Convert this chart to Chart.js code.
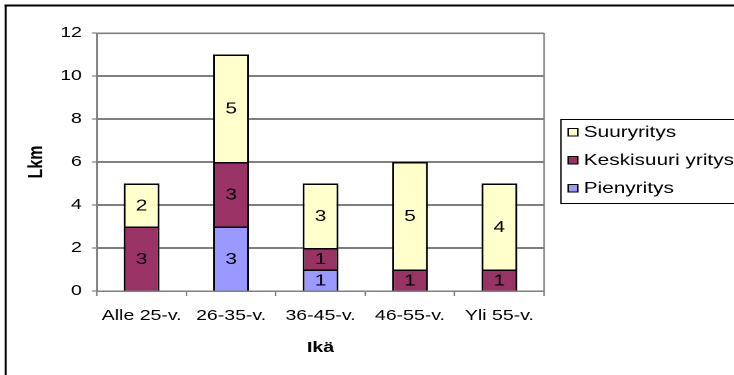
<!DOCTYPE html>
<html><head><meta charset="utf-8">
<style>
html,body{margin:0;padding:0;background:#fff;overflow:hidden}
#wrap{width:565px;height:375px;transform:scaleX(1.3);transform-origin:0 0}
canvas{display:block}
</style>
<script src="https://cdn.jsdelivr.net/npm/chart.js@4.4.1/dist/chart.umd.min.js"></script>
</head><body>
<div id="wrap"><canvas id="c" width="565" height="375" style="width:565px;height:375px"></canvas></div>
<script>
const categories = ['Alle 25-v.', '26-35-v.', '36-45-v.', '46-55-v.', 'Yli 55-v.'];
const pienyritys = [0, 3, 1, 0, 0];
const keskisuuri = [3, 3, 1, 1, 1];
const suuryritys = [2, 5, 3, 5, 4];
const yTicks = [0, 2, 4, 6, 8, 10, 12];
const seriesNames = ['Pienyritys', 'Keskisuuri yritys', 'Suuryritys'];
const xTitle = 'Ikä';
const yTitle = 'Lkm';

const FONT = '"Liberation Sans", Arial, sans-serif';
const GRAY = '#808080';

const PLOT_LEFT = 74.6, PLOT_RIGHT = 418.5, PLOT_TOP = 33, PLOT_BOTTOM = 291;
const W = 565, H = 375;

const framePlugin = {
  id: 'frame',
  beforeDraw(chart) {
    const ctx = chart.ctx;
    ctx.save();
    ctx.fillStyle = '#fff';
    ctx.fillRect(0, 0, W, H);
    ctx.strokeStyle = '#000';
    ctx.lineWidth = 2;
    ctx.beginPath(); ctx.moveTo(3.4, 5.5); ctx.lineTo(W + 5, 5.5); ctx.stroke();
    ctx.lineWidth = 1.6;
    ctx.beginPath(); ctx.moveTo(4.4, 4.5); ctx.lineTo(4.4, H + 5); ctx.stroke();
    ctx.restore();
  },
  afterDraw(chart) {
    const ctx = chart.ctx;
    const a = chart.chartArea;
    ctx.save();
    ctx.strokeStyle = GRAY;
    ctx.lineWidth = 1.2;
    ctx.beginPath();
    ctx.moveTo(a.left, a.top + 0.5);
    ctx.lineTo(a.right, a.top + 0.5);
    ctx.lineTo(a.right, a.bottom);
    ctx.stroke();
    const lx = 431.5, ly = 119.5, lb = 203.5;
    ctx.strokeStyle = '#000';
    ctx.lineWidth = 1;
    ctx.strokeRect(lx, ly, 200, lb - ly);
    const items = chart.data.datasets.map(d => ({label: d.label, color: d.backgroundColor})).reverse();
    const ys = [132, 160, 188];
    ctx.font = '16px ' + FONT;
    ctx.textAlign = 'left';
    ctx.textBaseline = 'middle';
    items.forEach((it, i) => {
      const y = ys[i];
      ctx.fillStyle = it.color;
      ctx.fillRect(437, y - 3.5, 7.5, 7.5);
      ctx.strokeStyle = '#000';
      ctx.lineWidth = 1;
      ctx.strokeRect(437, y - 3.5, 7.5, 7.5);
      ctx.fillStyle = '#000';
      ctx.fillText(it.label, 449, y + 0.5);
    });
    ctx.restore();
  },
  afterDatasetsDraw(chart) {
    const ctx = chart.ctx;
    ctx.save();
    ctx.font = '16px ' + FONT;
    ctx.fillStyle = '#000';
    ctx.textAlign = 'center';
    ctx.textBaseline = 'middle';
    chart.data.datasets.forEach((ds, i) => {
      const meta = chart.getDatasetMeta(i);
      meta.data.forEach((el, j) => {
        const v = ds.data[j];
        if (!v) return;
        const p = el.getProps(['x', 'y', 'base'], true);
        ctx.fillText(String(v), p.x, (p.y + p.base) / 2 + 1);
      });
    });
    ctx.restore();
  }
};

new Chart(document.getElementById('c'), {
  type: 'bar',
  data: {
    labels: categories,
    datasets: [
      {label: seriesNames[0], data: pienyritys, backgroundColor: '#9999FF'},
      {label: seriesNames[1], data: keskisuuri, backgroundColor: '#993366'},
      {label: seriesNames[2], data: suuryritys, backgroundColor: '#FFFFCC'}
    ].map(d => Object.assign(d, {
      borderColor: '#000', borderWidth: 1.5, borderSkipped: 'start',
      barPercentage: 0.4, categoryPercentage: 1
    }))
  },
  plugins: [framePlugin],
  options: {
    responsive: false,
    animation: false,
    devicePixelRatio: 2,
    layout: {padding: {top: PLOT_TOP, right: W - PLOT_RIGHT, left: 0, bottom: 0}},
    plugins: {legend: {display: false}, tooltip: {enabled: false}, title: {display: false}},
    scales: {
      x: {
        stacked: true,
        afterFit(s) { s.height = H - PLOT_BOTTOM; },
        grid: {display: true, drawOnChartArea: false, drawTicks: true, tickLength: 5, tickColor: GRAY, tickWidth: 1.2, offset: true},
        border: {display: true, color: GRAY, width: 1.5},
        ticks: {color: '#000', font: {family: FONT, size: 15}, padding: 11, maxRotation: 0, autoSkip: false},
        title: {display: true, text: xTitle, color: '#000', font: {family: FONT, size: 15, weight: 'bold'}, padding: {top: 0, bottom: 18}}
      },
      y: {
        stacked: true,
        min: yTicks[0],
        max: yTicks[yTicks.length - 1],
        afterFit(s) { s.width = PLOT_LEFT; },
        afterBuildTicks(s) { s.ticks = yTicks.map(v => ({value: v})); },
        grid: {
          color: c => (c.tick && (c.tick.value === yTicks[0] || c.tick.value === yTicks[yTicks.length - 1])) ? GRAY : '#000',
          lineWidth: 1, drawTicks: true, tickLength: 3.85, tickColor: GRAY, tickWidth: 1.2
        },
        border: {display: true, color: GRAY, width: 1.5},
        ticks: {color: '#000', font: {family: FONT, size: 15}, padding: 7.75, stepSize: 2},
        title: {display: true, text: yTitle, color: '#000', font: {family: FONT, size: 16, weight: 'bold'}, padding: {top: 18.4, bottom: 0}}
      }
    }
  }
});
</script>
</body></html>
